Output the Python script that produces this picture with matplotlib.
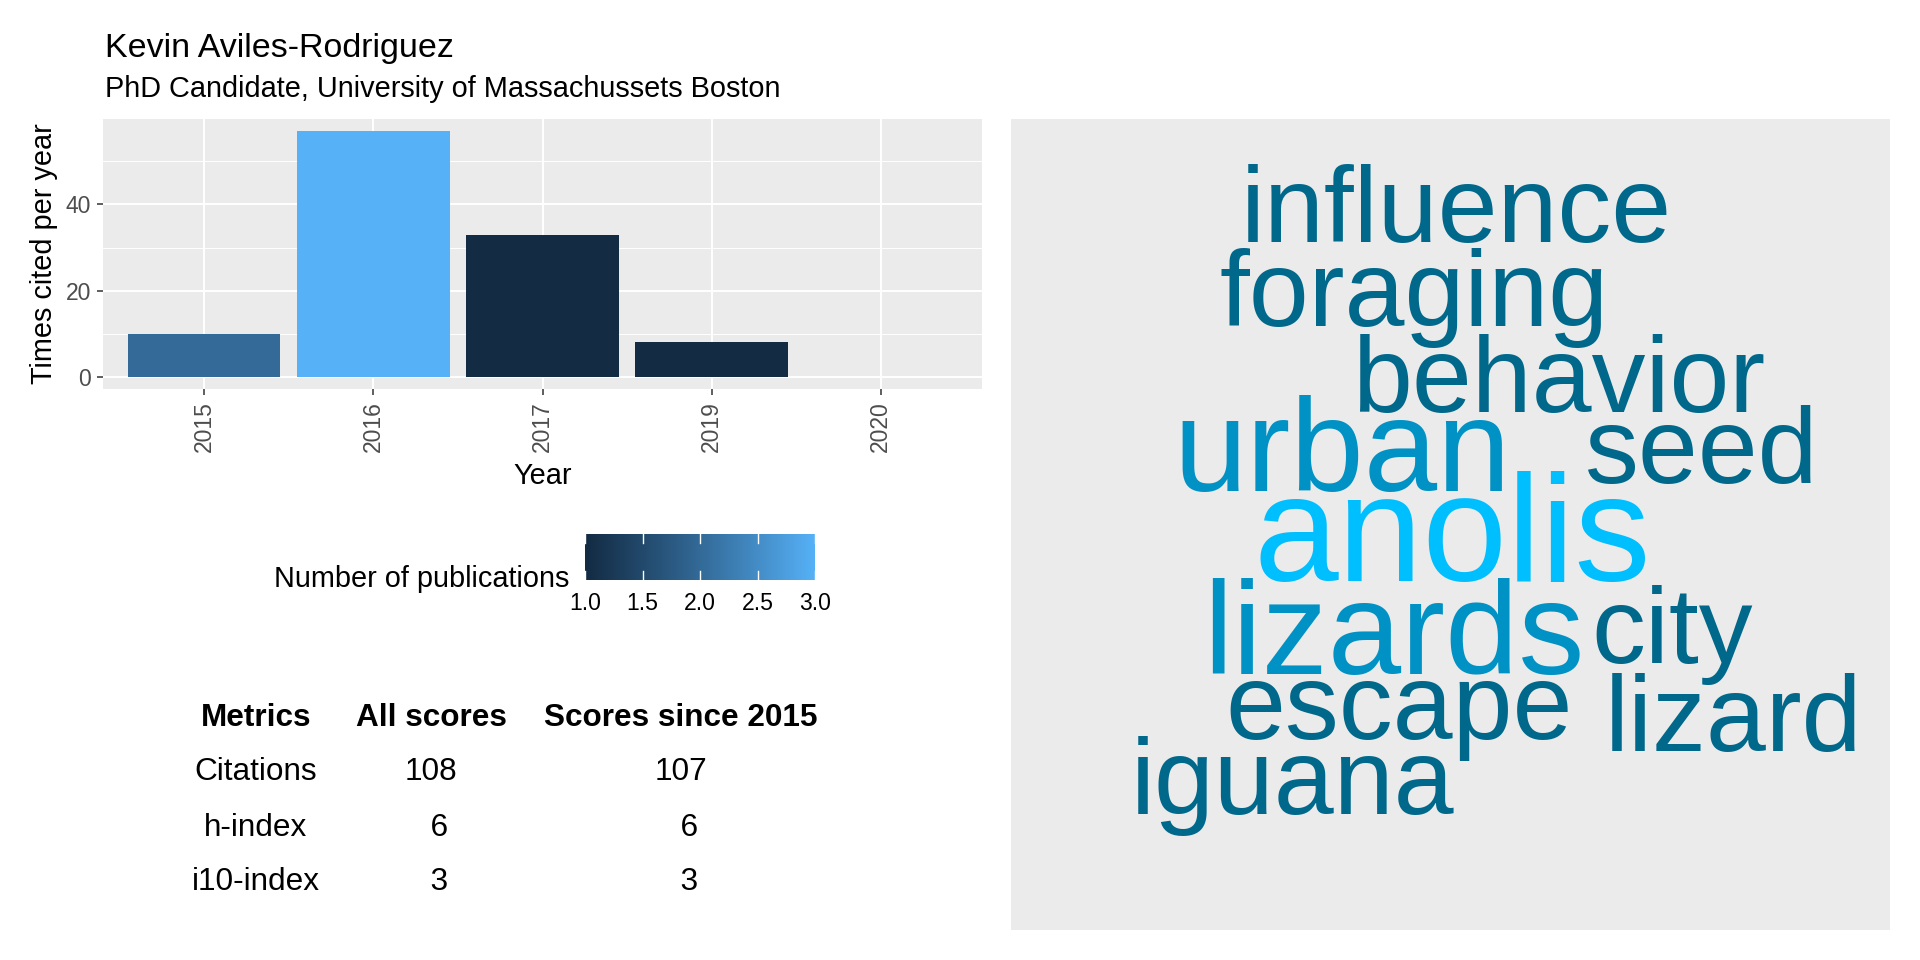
import numpy as np
import matplotlib
matplotlib.use("Agg")
import matplotlib.pyplot as plt
from matplotlib.colors import LinearSegmentedColormap, Normalize, to_rgb

plt.rcParams["font.family"] = ["Liberation Sans", "DejaVu Sans"]

# ---------------- data ----------------
title = "Kevin Aviles-Rodriguez"
subtitle = "PhD Candidate, University of Massachussets Boston"

years = ["2015", "2016", "2017", "2019", "2020"]
cites_per_year = [10, 57, 33, 8, 0]
n_publications = [2, 3, 1, 1, 1]

table_header = ["Metrics", "All scores", "Scores since 2015"]
metric_names = ["Citations", "h-index", "i10-index"]
all_scores = [108, 6, 3]
scores_since_2015 = [107, 6, 3]

words = ["influence", "foraging", "behavior", "urban", "seed", "anolis",
         "lizards", "city", "escape", "lizard", "iguana"]
word_freq = [2, 2, 2, 3, 2, 4, 3, 2, 2, 2, 2]

# ---------------- layout (word-cloud placement, pixels inside panel) ----------------
word_x = [445, 403, 548, 331, 690, 441, 383, 661, 388, 723, 282]
word_y = [123, 207, 293, 372, 364, 462, 555, 544, 620, 632, 695]

W, H = 1920, 960
BASE = 20.8

# ---------------- colour helpers (Lab interpolation like ggplot) ----------------
_M = np.array([[0.4124564, 0.3575761, 0.1804375],
               [0.2126729, 0.7151522, 0.0721750],
               [0.0193339, 0.1191920, 0.9503041]])
_WHITE = np.array([0.95047, 1.0, 1.08883])


def srgb_to_lab(rgb):
    c = np.asarray(rgb, float)
    lin = np.where(c <= 0.04045, c / 12.92, ((c + 0.055) / 1.055) ** 2.4)
    t = (_M @ lin) / _WHITE
    d = 6 / 29
    f = np.where(t > d ** 3, np.cbrt(t), t / (3 * d * d) + 4 / 29)
    return np.array([116 * f[1] - 16, 500 * (f[0] - f[1]), 200 * (f[1] - f[2])])


def lab_to_srgb(lab):
    L, a, b = lab
    fy = (L + 16) / 116
    f = np.array([fy + a / 500, fy, fy - b / 200])
    d = 6 / 29
    t = np.where(f > d, f ** 3, 3 * d * d * (f - 4 / 29))
    lin = np.linalg.inv(_M) @ (t * _WHITE)
    lin = np.clip(lin, 0, None)
    c = np.where(lin <= 0.0031308, 12.92 * lin, 1.055 * lin ** (1 / 2.4) - 0.055)
    return np.clip(c, 0, 1)


def lab_cmap(c0, c1, n=256):
    l0, l1 = srgb_to_lab(to_rgb(c0)), srgb_to_lab(to_rgb(c1))
    cols = [lab_to_srgb(l0 + (l1 - l0) * s) for s in np.linspace(0, 1, n)]
    return LinearSegmentedColormap.from_list("labgrad", cols)


def px_rect(x0, y0, x1, y1):
    return [x0 / W, 1 - y1 / H, (x1 - x0) / W, (y1 - y0) / H]


bar_cmap = lab_cmap("#132B43", "#56B1F7")
bar_norm = Normalize(1, 3)
word_cmap = lab_cmap("#00688B", "#00BFFF")
word_norm = Normalize(min(word_freq), max(word_freq))

fig = plt.figure(figsize=(W / 100, H / 100), dpi=100)

# ---------------- titles ----------------
fig.text(105 / W, 1 - 57 / H, title, fontsize=24.5, ha="left", va="baseline")
fig.text(105 / W, 1 - 97 / H, subtitle, fontsize=BASE, ha="left", va="baseline")

# ---------------- bar chart ----------------
ax = fig.add_axes(px_rect(103, 119, 982, 389))
ax.set_facecolor("#EBEBEB")
for s in ax.spines.values():
    s.set_visible(False)
ax.set_axisbelow(True)
xpos = np.arange(len(years))
ax.bar(xpos, cites_per_year, width=0.9, color=bar_cmap(bar_norm(n_publications)))
ymax = max(cites_per_year)
ax.set_xlim(-0.6, len(years) - 0.4)
ax.set_ylim(-0.05 * ymax, 1.05 * ymax)
ax.set_yticks([0, 20, 40])
ax.set_yticks([10, 30, 50], minor=True)
ax.set_xticks(xpos, years, rotation=90)
ax.grid(which="major", color="white", linewidth=1.4)
ax.grid(which="minor", axis="y", color="white", linewidth=0.7)
ax.tick_params(which="minor", length=0)
ax.tick_params(which="major", length=4.3, width=1.1, color="#333333",
               labelcolor="#4D4D4D", labelsize=16.5, pad=4.3)
ax.set_ylabel("Times cited per year", fontsize=BASE)
ax.yaxis.label.set_va("baseline")
ax.yaxis.set_label_coords(-0.058, 0.5)
ax.set_xlabel("Year", fontsize=BASE)
ax.xaxis.label.set_va("baseline")
ax.xaxis.set_label_coords(0.5, -(484 - 389) / 270)

# ---------------- colour legend ----------------
cax = fig.add_axes(px_rect(585, 534, 815, 580))
grad = np.linspace(1, 3, 256)[None, :]
cax.imshow(grad, extent=[1, 3, 0, 1], aspect="auto", cmap=bar_cmap, norm=bar_norm)
cax.set_xlim(1, 3)
cax.set_ylim(0, 1)
for s in cax.spines.values():
    s.set_visible(False)
leg_ticks = [1.0, 1.5, 2.0, 2.5, 3.0]
for v in leg_ticks:
    cax.plot([v, v], [0, 0.2], color="white", lw=1.0)
    cax.plot([v, v], [0.8, 1], color="white", lw=1.0)
cax.set_yticks([])
cax.set_xticks(leg_ticks, [f"{v:.1f}" for v in leg_ticks])
cax.tick_params(length=0, pad=8.6, labelsize=16.6, labelcolor="black")
fig.text(569 / W, 1 - 587 / H, "Number of publications", fontsize=BASE,
         ha="right", va="baseline")

# ---------------- metrics table ----------------
tax = fig.add_axes([0, 0, 1, 1])
tax.axis("off")


def fmt_col(vals):
    s = [str(v) for v in vals]
    w = max(len(x) for x in s)
    return [x.rjust(w) for x in s]


rows = list(zip(metric_names, fmt_col(all_scores), fmt_col(scores_since_2015)))
tb = tax.table(cellText=rows, colLabels=table_header, cellLoc="center",
               colWidths=[140, 210, 290],
               bbox=[186 / W, 1 - 910 / H, (826 - 186) / W, 220 / H])
tb.auto_set_font_size(False)
for (r, c), cell in tb.get_celld().items():
    cell.set_linewidth(0)
    cell.set_facecolor("none")
    cell.get_text().set_fontsize(22.7)
    if r == 0:
        cell.get_text().set_fontweight("bold")

# ---------------- word cloud ----------------
wax = fig.add_axes(px_rect(1011, 119, 1890, 930))
wax.set_facecolor("#EBEBEB")
for s in wax.spines.values():
    s.set_visible(False)
wax.set_xticks([])
wax.set_yticks([])
wax.set_xlim(0, 879)
wax.set_ylim(811, 0)
for w, f, x, y in zip(words, word_freq, word_x, word_y):
    wax.text(x, y, w, fontsize=54.8 * np.sqrt(f), color=word_cmap(word_norm(f)),
             ha="center", va="baseline")

fig.savefig("out.png", dpi=100)
